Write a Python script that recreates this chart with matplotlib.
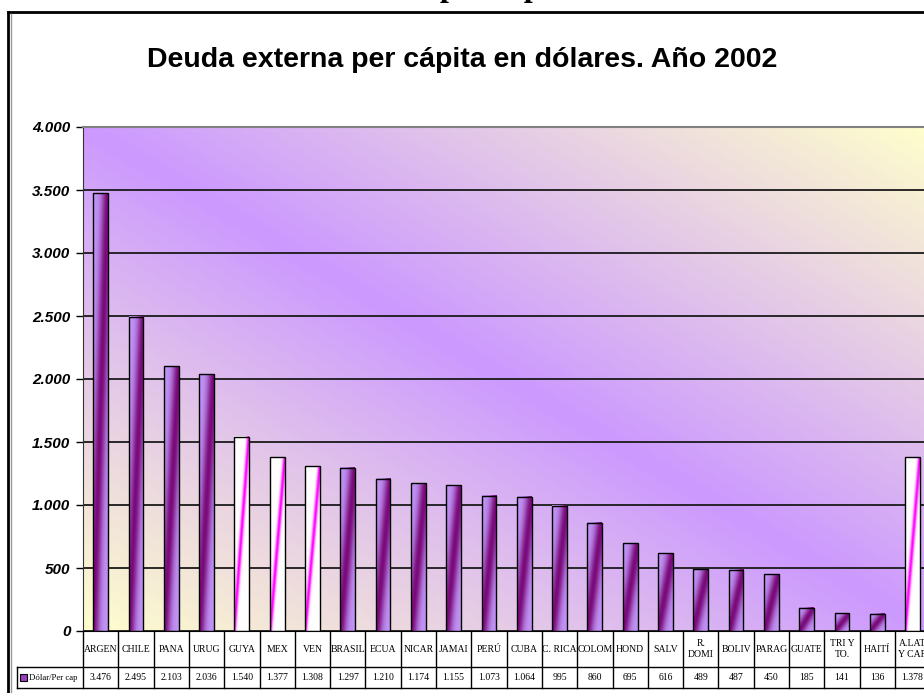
import numpy as np
import matplotlib.pyplot as plt
from matplotlib.colors import to_rgb
from matplotlib.patches import Rectangle

# datos
paises = ['ARGEN', 'CHILE', 'PANA', 'URUG', 'GUYA', 'MEX', 'VEN', 'BRASIL', 'ECUA',
          'NICAR', 'JAMAI', 'PERÚ', 'CUBA', 'C. RICA', 'COLOM', 'HOND', 'SALV',
          'R.\nDOMI', 'BOLIV', 'PARAG', 'GUATE', 'TRI Y\nTO.', 'HAITÍ', 'A.LAT\nY CAR']
dolares = [3476, 2495, 2103, 2036, 1540, 1377, 1308, 1297, 1210, 1174, 1155, 1073,
           1064, 995, 860, 695, 616, 489, 487, 450, 185, 141, 136, 1378]
resaltados = ['GUYA', 'MEX', 'VEN', 'A.LAT\nY CAR']
serie = 'Dólar/Per cap'
titulo = 'Deuda externa per cápita en dólares. Año 2002'
yticks = [0, 500, 1000, 1500, 2000, 2500, 3000, 3500, 4000]


def miles(v):
    return f'{int(v):,}'.replace(',', '.')


W, H = 924, 693
paso = 35.3  # ancho de cada categoria en px
n = len(paises)

fig = plt.figure(figsize=(W / 100, H / 100), dpi=100)
ax = fig.add_axes([83 / W, 62 / H, n * paso / W, 504 / H])

# fondo degradado
g = np.linspace(0, 1, 300)
U, V = np.meshgrid(g, g)
s = np.clip(np.abs(U + V - 1), 0, 1)[..., None]
fondo = np.array(to_rgb('#cc99ff')) * (1 - s) + np.array(to_rgb('#ffffcc')) * s
ax.imshow(fondo, extent=(0, 1, 0, 1), transform=ax.transAxes, origin='lower',
          aspect='auto', zorder=-1)

# barras
x = np.arange(n)
barras = ax.bar(x, dolares, width=0.42, facecolor='none', edgecolor='black',
                linewidth=1.0, zorder=3)
Ub, Vb = np.meshgrid(np.linspace(0, 1, 40), np.linspace(0, 1, 200))
t = Ub - Vb
for rect, pais in zip(barras, paises):
    if pais in resaltados:
        w = np.exp(-(t / 0.13) ** 2)[..., None]
        c0, c1 = np.array(to_rgb('#ffffff')), np.array(to_rgb('#ff00ff'))
    else:
        w = np.exp(-(t / 0.4) ** 2)[..., None]
        c0, c1 = np.array(to_rgb('#c094f5')), np.array(to_rgb('#7a0a7a'))
    img = c0 * (1 - w) + c1 * w
    x0 = rect.get_x()
    ax.imshow(img, extent=(x0, x0 + rect.get_width(), 0, rect.get_height()),
              origin='lower', aspect='auto', zorder=2)

ax.set_xlim(-0.5, n - 0.5)
ax.set_ylim(0, 4000)
ax.set_xticks([])
ax.set_yticks(yticks, labels=[miles(v) for v in yticks], fontsize=11,
              fontweight='bold', fontstyle='italic', family='Liberation Sans')
ax.tick_params(axis='y', direction='out', length=5, width=1, pad=4)
ax.set_axisbelow(True)
ax.grid(axis='y', color='#1a1a1a', lw=1.3)
ax.get_ygridlines()[-1].set_color('#808080')
ax.spines['right'].set_visible(False)
ax.spines['top'].set_color('#808080')
ax.spines['top'].set_linewidth(1.5)
ax.spines['left'].set_color('#333333')
ax.spines['bottom'].set_color('black')

# tabla de datos
tr = ax.get_xaxis_transform()
yh = -36 / 504
yv = -57 / 504
izq = -0.5 - 66 / paso
for xb in np.arange(n + 1) - 0.5:
    ax.plot([xb, xb], [0, yv], color='black', lw=1, transform=tr, clip_on=False)
ax.plot([izq, n - 0.5], [yh, yh], color='black', lw=1, transform=tr, clip_on=False)
ax.plot([izq, n - 0.5], [yv, yv], color='black', lw=1, transform=tr, clip_on=False)
ax.plot([izq, izq], [yh, yv], color='black', lw=1, transform=tr, clip_on=False)
for xi, pais, v in zip(x, paises, dolares):
    ax.text(xi, yh / 2, pais, transform=tr, ha='center', va='center', fontsize=7,
            family='Liberation Serif', linespacing=1.25, clip_on=False)
    ax.text(xi, (yh + yv) / 2, miles(v), transform=tr, ha='center', va='center',
            fontsize=7, family='Liberation Serif', clip_on=False)
ax.add_patch(Rectangle((-0.5 - 63 / paso, (yh + yv) / 2 - 3.5 / 504), 7 / paso, 7 / 504,
                       transform=tr, facecolor='#9b3fc0', edgecolor='black', lw=0.8,
                       clip_on=False))
ax.text(-0.5 - 54 / paso, (yh + yv) / 2, serie, transform=tr, ha='left', va='center',
        fontsize=6.3, family='Liberation Serif', clip_on=False)

# titulo y borde del grafico
fig.text(0.5, 1 - 60 / H, titulo, ha='center', va='center', fontsize=20.5,
         fontweight='bold', family='Liberation Sans')
fig.text(440 / W, 1 + 4 / H, 'per cápita', ha='left', va='baseline', fontsize=23,
         fontweight='bold', family='Liberation Serif')
fig.add_artist(plt.Line2D([8 / W, 8 / W], [0, 1 - 12 / H], color='black', lw=2,
                          transform=fig.transFigure))
fig.add_artist(plt.Line2D([8 / W, 1], [1 - 12 / H, 1 - 12 / H], color='black', lw=2,
                          transform=fig.transFigure))
fig.add_artist(plt.Line2D([10.5 / W, 10.5 / W], [0, 1 - 14 / H], color='#999999', lw=1,
                          transform=fig.transFigure))

fig.savefig('out.png', dpi=100)
